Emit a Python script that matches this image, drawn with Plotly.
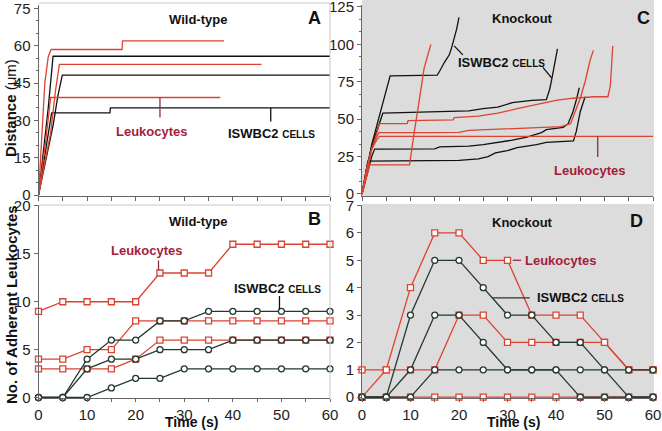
import plotly.graph_objects as go

W, H = 662, 431

# ---- panel A: wild-type tracks, distance (um) vs time (s)
wt_leuk1_t = [0, 1.3, 2.0, 2.6, 17.2, 17.3, 38.2]
wt_leuk1_d = [0, 45, 55.5, 58.5, 58.5, 62, 62]
wt_leuk2_t = [0, 2.5, 3.5, 4.3, 45.9]
wt_leuk2_d = [0, 25, 42, 52.5, 52.5]
wt_leuk3_t = [0, 1.5, 2.5, 37.4]
wt_leuk3_d = [0, 22, 39.2, 39.2]
wt_isw1_t = [0, 2.0, 3.0, 60]
wt_isw1_d = [0, 35, 55.8, 55.8]
wt_isw2_t = [0, 3.0, 4.0, 4.9, 60]
wt_isw2_d = [0, 28, 40, 48.2, 48.2]
wt_isw3_t = [0, 1.5, 2.7, 14.7, 14.8, 60]
wt_isw3_d = [0, 18, 33, 33, 35, 35]

# ---- panel C: knockout tracks
ko_leuk1_t = [0, 0.8, 1.6, 9.8, 10.2, 10.8, 11.5, 12.2, 12.8, 13.5, 14.2]
ko_leuk1_d = [0, 10, 19.5, 19.5, 30, 42, 56, 70, 84, 92, 100]
ko_leuk2_t = [0, 1, 2, 3, 3.6, 9.3, 9.5, 18.8, 19, 24, 28, 32, 36, 40, 43.5, 48, 50.7, 51.2, 51.5, 51.7]
ko_leuk2_d = [0, 15, 30, 40, 47, 47, 49, 49.5, 51, 52, 54, 57, 60, 62.5, 64, 65, 65, 72, 88, 99]
ko_leuk3_t = [0, 1, 2, 3, 3.5, 14, 20, 22, 30, 34, 41, 43, 44, 45, 46, 47, 47.7]
ko_leuk3_d = [0, 16, 30, 38, 41, 41, 41.2, 42.5, 43.5, 44.5, 45, 47, 55, 64, 75, 89, 96]
ko_leuk4_t = [0, 1, 2, 3, 3.6, 60]
ko_leuk4_d = [0, 18, 30, 36, 38.5, 38.5]
ko_isw1_t = [0, 1, 2, 3, 4, 5, 5.8, 15.5, 16, 17, 18, 18.5, 19, 19.5, 20]
ko_isw1_d = [0, 15, 33, 45, 58, 70, 79, 79.5, 82, 88, 93, 98, 104, 110, 118]
ko_isw2_t = [0, 1, 2, 3, 4.3, 10, 20, 22, 25, 28, 31, 35, 38, 38.7, 39.2, 39.8, 40.3]
ko_isw2_d = [0, 18, 32, 42, 54, 54.5, 55, 55.5, 57, 58, 61, 62.5, 63, 70, 78, 88, 97]
ko_isw3_t = [0, 1, 2, 2.6, 15, 16, 22, 25, 28, 31, 34, 37, 38, 41.5, 42.5, 43.5, 44.2, 44.8]
ko_isw3_d = [0, 12, 25, 30, 30.2, 31.5, 32, 33, 34.5, 36, 38, 41, 43, 44.5, 47, 55, 63, 71]
ko_isw4_t = [0, 0.6, 1.2, 20, 24, 26, 27.5, 30, 32, 36, 38, 43.6, 44.2, 45, 45.5, 46]
ko_isw4_d = [0, 12, 22, 22.5, 23.5, 25, 27.5, 29, 31, 33, 34.5, 35.5, 42, 55, 60, 65]

# ---- panels B / D: adherent counts every 5 s
time_s = [0, 5, 10, 15, 20, 25, 30, 35, 40, 45, 50, 55, 60]
wt_leuk_a = [9, 10, 10, 10, 10, 13, 13, 13, 16, 16, 16, 16, 16]
wt_leuk_b = [4, 4, 5, 5, 8, 8, 8, 8, 8, 8, 8, 8, 8]
wt_leuk_c = [3, 3, 3, 3, 4, 6, 6, 6, 6, 6, 6, 6, 6]
wt_isw_a = [0, 0, 4, 6, 6, 8, 8, 9, 9, 9, 9, 9, 9]
wt_isw_b = [0, 0, 3, 4, 4, 5, 5, 5, 6, 6, 6, 6, 6]
wt_isw_c = [0, 0, 0, 1, 2, 2, 3, 3, 3, 3, 3, 3, 3]
ko_leuk_a = [0, 1, 4, 6, 6, 5, 5, 3, 3, 3, 2, 1, 1]
ko_leuk_b = [1, 1, 1, 1, 3, 3, 2, 2, 2, 2, 2, 1, 1]
ko_leuk_c = [0, 0, 0, 0, 0, 0, 0, 0, 0, 0, 0, 0, 0]
ko_isw_a = [0, 0, 3, 5, 5, 4, 3, 3, 2, 2, 1, 0, 0]
ko_isw_b = [0, 0, 1, 3, 3, 2, 1, 1, 1, 0, 0, 0, 0]
ko_isw_c = [0, 0, 0, 1, 1, 1, 1, 1, 1, 1, 1, 1, 1]

RED = "#dc4330"
DARK = "#111111"
GREEN_DARK = "#24392f"
LABEL_RED = "#a51d3a"
FONT = "Liberation Sans, Arial, sans-serif"

fig = go.Figure()


def track(t, d, color, xa, ya):
    fig.add_trace(go.Scatter(x=t, y=d, mode="lines", line=dict(color=color, width=1.3),
                             xaxis=xa, yaxis=ya, cliponaxis=False, showlegend=False))


def counts(y, color, symbol, xa, ya):
    fig.add_trace(go.Scatter(x=time_s, y=y, mode="lines+markers",
                             line=dict(color=color, width=1.3),
                             marker=dict(symbol=symbol, size=6, color="white",
                                         line=dict(color=color, width=1.3)),
                             xaxis=xa, yaxis=ya, cliponaxis=False, showlegend=False))


for t, d in [(wt_isw1_t, wt_isw1_d), (wt_isw2_t, wt_isw2_d), (wt_isw3_t, wt_isw3_d)]:
    track(t, d, DARK, "x", "y")
for t, d in [(wt_leuk1_t, wt_leuk1_d), (wt_leuk2_t, wt_leuk2_d), (wt_leuk3_t, wt_leuk3_d)]:
    track(t, d, RED, "x", "y")

for t, d in [(ko_isw1_t, ko_isw1_d), (ko_isw2_t, ko_isw2_d), (ko_isw3_t, ko_isw3_d), (ko_isw4_t, ko_isw4_d)]:
    track(t, d, DARK, "x2", "y2")
for t, d in [(ko_leuk1_t, ko_leuk1_d), (ko_leuk2_t, ko_leuk2_d), (ko_leuk3_t, ko_leuk3_d), (ko_leuk4_t, ko_leuk4_d)]:
    track(t, d, RED, "x2", "y2")

for y in [wt_leuk_a, wt_leuk_b, wt_leuk_c]:
    counts(y, RED, "square", "x3", "y3")
for y in [wt_isw_a, wt_isw_b, wt_isw_c]:
    counts(y, GREEN_DARK, "circle", "x3", "y3")

for y in [ko_leuk_c, ko_leuk_b, ko_leuk_a]:
    counts(y, RED, "square", "x4", "y4")
for y in [ko_isw_a, ko_isw_b, ko_isw_c]:
    counts(y, GREEN_DARK, "circle", "x4", "y4")


def dom_x(a, b):
    return [a / W, b / W]


def dom_y(top, bottom):
    return [1 - bottom / H, 1 - top / H]


tickfont = dict(family=FONT, size=15, color="#222")
axis_common = dict(showline=True, linecolor="#666", linewidth=1, ticks="outside",
                   tickcolor="#666", ticklen=4, showgrid=False, zeroline=False,
                   tickfont=tickfont, fixedrange=True, ticklabeloverflow="allow",
                   automargin=False)

top_x = dict(axis_common, range=[0, 60], dtick=5, showticklabels=False)
bot_x = dict(axis_common, range=[0, 60], dtick=10, ticklen=3,
             minor=dict(dtick=5, ticks="outside", ticklen=3, tickcolor="#666"))

fig.update_layout(
    width=W, height=H,
    margin=dict(l=0, r=0, t=0, b=0, autoexpand=False),
    paper_bgcolor="white", plot_bgcolor="rgba(0,0,0,0)",
    xaxis=dict(top_x, domain=dom_x(38.5, 330), anchor="y"),
    yaxis=dict(axis_common, domain=dom_y(5, 196), range=[-0.4, 76.4], dtick=15,
               minor=dict(dtick=5, ticks="outside", ticklen=2, tickcolor="#666"), anchor="x"),
    xaxis2=dict(top_x, domain=dom_x(362, 653), anchor="y2"),
    yaxis2=dict(axis_common, domain=dom_y(5, 196), range=[-1.34, 126.3], dtick=25,
                minor=dict(dtick=25 / 3, ticks="outside", ticklen=2, tickcolor="#666"), anchor="x2"),
    xaxis3=dict(bot_x, domain=dom_x(38.5, 330), anchor="y3"),
    yaxis3=dict(axis_common, domain=dom_y(205, 398), range=[-0.05, 20.1], dtick=5, anchor="x3"),
    xaxis4=dict(bot_x, domain=dom_x(362, 653), anchor="y4"),
    yaxis4=dict(axis_common, domain=dom_y(205, 398), range=[-0.03, 7.02], dtick=1, anchor="x4"),
)

# panel frames / knockout background
shapes = [
    dict(type="rect", xref="paper", yref="paper", x0=362 / W, x1=654 / W,
         y0=1 - 197 / H, y1=1, fillcolor="#dcdcdc", line=dict(width=0), layer="below"),
    dict(type="rect", xref="paper", yref="paper", x0=362 / W, x1=654 / W,
         y0=1 - 398 / H, y1=1 - 204 / H, fillcolor="#dcdcdc", line=dict(width=0), layer="below"),
    dict(type="line", xref="paper", yref="paper", x0=38.5 / W, x1=330 / W,
         y0=1 - 3 / H, y1=1 - 3 / H, line=dict(color="#c8c8c8", width=1)),
    dict(type="line", xref="paper", yref="paper", x0=330 / W, x1=330 / W,
         y0=1 - 197 / H, y1=1 - 3 / H, line=dict(color="#c8c8c8", width=1)),
    dict(type="line", xref="paper", yref="paper", x0=38.5 / W, x1=330 / W,
         y0=1 - 205 / H, y1=1 - 205 / H, line=dict(color="#c8c8c8", width=1)),
    dict(type="line", xref="paper", yref="paper", x0=330 / W, x1=330 / W,
         y0=1 - 398 / H, y1=1 - 205 / H, line=dict(color="#c8c8c8", width=1)),
]

# leader lines for the labels
def leader(xr, yr, x0, y0, x1, y1, color):
    shapes.append(dict(type="line", xref=xr, yref=yr, x0=x0, y0=y0, x1=x1, y1=y1,
                       line=dict(color=color, width=1.3)))


leader("x", "y", 25.0, 39.2, 25.0, 31.2, "#8c3040")
leader("x", "y", 47.8, 35, 47.8, 29.6, DARK)
leader("x2", "y2", 19.0, 99, 20.8, 93, DARK)
leader("x2", "y2", 37.3, 84.6, 39.1, 77.6, DARK)
leader("x2", "y2", 48.6, 38.5, 48.6, 24.8, "#a0283a")
leader("x3", "y3", 24.7, 14.3, 24.7, 13.3, "#8c3040")
leader("x3", "y3", 49.6, 10.6, 49.6, 9.2, DARK)
leader("x4", "y4", 31.1, 5.0, 32.8, 5.0, "#a0283a")
leader("x4", "y4", 26.9, 3.63, 34.6, 3.63, GREEN_DARK)
fig.update_layout(shapes=shapes)

isw = "<b>ISWBC2 <span style='font-size:10px'>CELLS</span></b>"
ann = []


def note(xr, yr, x, y, text, size=13, color="#111"):
    ann.append(dict(xref=xr, yref=yr, x=x, y=y, text=text, showarrow=False,
                    xanchor="center", yanchor="middle",
                    font=dict(family=FONT, size=size, color=color)))


note("x", "y", 32.8, 70.7, "<b>Wild-type</b>")
note("x", "y", 56.9, 71, "<b>A</b>", size=18)
note("x", "y", 23.3, 25.5, "<b>Leukocytes</b>", color=LABEL_RED)
note("x", "y", 47.9, 24.9, isw)

note("x2", "y2", 33, 117.2, "<b>Knockout</b>")
note("x2", "y2", 58.1, 117.7, "<b>C</b>", size=18)
note("x2", "y2", 28.7, 88, isw)
note("x2", "y2", 47, 15.5, "<b>Leukocytes</b>", color=LABEL_RED)

note("x3", "y3", 32.8, 18.4, "<b>Wild-type</b>")
note("x3", "y3", 56.9, 18.6, "<b>B</b>", size=18)
note("x3", "y3", 22.3, 15.4, "<b>Leukocytes</b>", color=LABEL_RED)
note("x3", "y3", 49.2, 11.4, isw)

note("x4", "y4", 33, 6.37, "<b>Knockout</b>")
note("x4", "y4", 56.7, 6.44, "<b>D</b>", size=18)
note("x4", "y4", 41, 5.0, "<b>Leukocytes</b>", color=LABEL_RED)
note("x4", "y4", 45, 3.64, isw)

# axis titles
note("paper", "paper", 11 / W, 1 - 108 / H, "<b>Distance</b> (μm)", size=15)
note("paper", "paper", 11 / W, 1 - 305 / H, "<b>No. of Adherent Leukocytes</b>", size=15)
ann[-1]["textangle"] = -90
ann[-2]["textangle"] = -90
note("paper", "paper", 191 / W, 1 - 422 / H, "<b>Time (s)</b>", size=14)
note("paper", "paper", 513 / W, 1 - 422 / H, "<b>Time (s)</b>", size=14)
fig.update_layout(annotations=ann)

# the page body has a default 8px margin; drop it so the figure sits at 0,0
fig.write_html("out.html", config={"displayModeBar": False},
               post_script="document.body.style.margin='0';document.body.style.overflow='hidden';")
